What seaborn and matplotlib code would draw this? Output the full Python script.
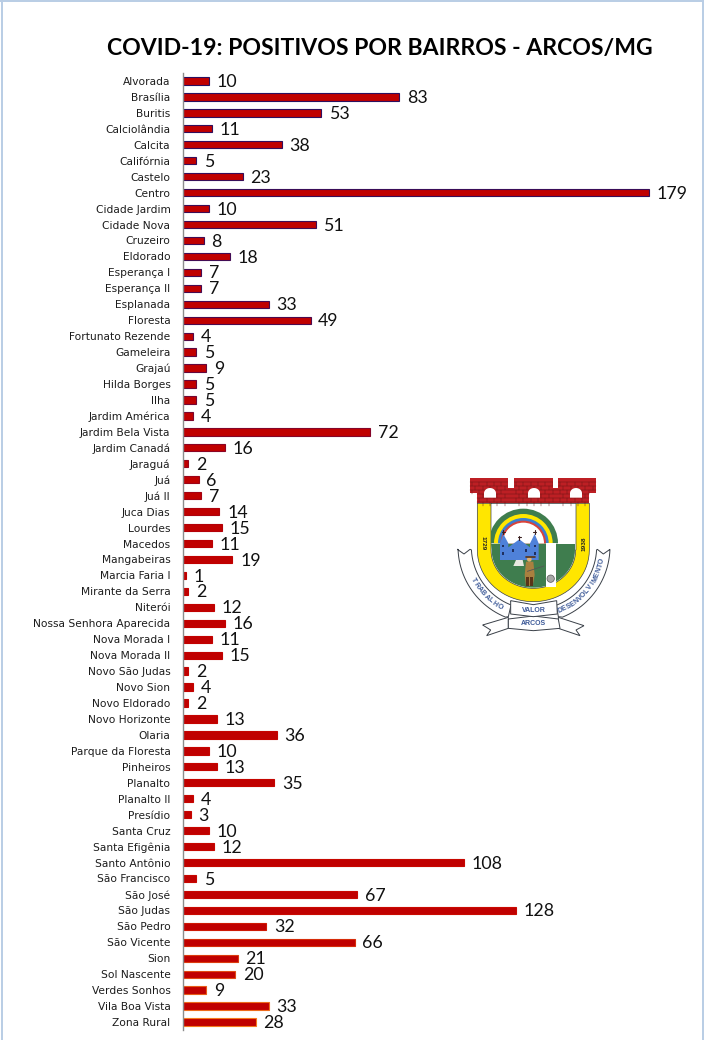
import numpy as np
import pandas as pd
import matplotlib
matplotlib.use('Agg')
import matplotlib.pyplot as plt
import seaborn as sns
from matplotlib.colors import LinearSegmentedColormap
from matplotlib.lines import Line2D
from matplotlib.patches import Rectangle, Wedge, Circle, PathPatch
from matplotlib.path import Path

bairros = ['Alvorada', 'Brasília', 'Buritis', 'Calciolândia', 'Calcita', 'Califórnia', 'Castelo', 'Centro',
           'Cidade Jardim', 'Cidade Nova', 'Cruzeiro', 'Eldorado', 'Esperança I', 'Esperança II', 'Esplanada',
           'Floresta', 'Fortunato Rezende', 'Gameleira', 'Grajaú', 'Hilda Borges', 'Ilha', 'Jardim América',
           'Jardim Bela Vista', 'Jardim Canadá', 'Jaraguá', 'Juá', 'Juá II', 'Juca Dias', 'Lourdes', 'Macedos',
           'Mangabeiras', 'Marcia Faria I', 'Mirante da Serra', 'Niterói', 'Nossa Senhora Aparecida',
           'Nova Morada I', 'Nova Morada II', 'Novo São Judas', 'Novo Sion', 'Novo Eldorado', 'Novo Horizonte',
           'Olaria', 'Parque da Floresta', 'Pinheiros', 'Planalto', 'Planalto II', 'Presídio', 'Santa Cruz',
           'Santa Efigênia', 'Santo Antônio', 'São Francisco', 'São José', 'São Judas', 'São Pedro', 'São Vicente',
           'Sion', 'Sol Nascente', 'Verdes Sonhos', 'Vila Boa Vista', 'Zona Rural']
positivos = [10, 83, 53, 11, 38, 5, 23, 179, 10, 51, 8, 18, 7, 7, 33, 49, 4, 5, 9, 5, 5, 4, 72, 16, 2, 6, 7, 14, 15,
             11, 19, 1, 2, 12, 16, 11, 15, 2, 4, 2, 13, 36, 10, 13, 35, 4, 3, 10, 12, 108, 5, 67, 128, 32, 66, 21, 20,
             9, 33, 28]

W, H = 720, 1040
RED = '#c00000'
BRICK = '#bd1f24'
YELLOW = '#ffe600'
GREEN = '#3f7d4e'
BLUE = '#4f81d9'
INK = '#3a4048'
TXT_BLUE = '#3d5a98'

sns.set_theme(style='white')
plt.rcParams['font.family'] = ['DejaVu Sans']

df = pd.DataFrame({'bairro': bairros, 'positivos': positivos})

fig = plt.figure(figsize=(W / 100, H / 100), dpi=100, facecolor='white')
ax = fig.add_axes([183 / W, 1 - 1030 / H, (700 - 183) / W, (1030 - 73) / H])
sns.barplot(data=df, y='bairro', x='positivos', color=RED, saturation=1, width=0.46, ax=ax)

# bar outline goes from dark purple at the top to orange at the bottom
edge_cmap = LinearSegmentedColormap.from_list(
    'edge', [(0, '#2a1060'), (0.25, '#4a0a50'), (0.5, '#c00000'), (0.88, '#c80800'), (1, '#f47a20')])
for i, bar in enumerate(ax.containers[0]):
    bar.set_edgecolor(edge_cmap(i / (len(bairros) - 1)))
    bar.set_linewidth(0.8)

ax.set_xlim(0, (700 - 183) / 2.603)
ax.set_ylim(len(bairros) - 0.5, -0.5)
ax.set_xlabel('')
ax.set_ylabel('')
ax.set_xticks([])
ax.tick_params(axis='y', length=0, pad=9, labelsize=7.7, labelcolor='#1c1c1c')
sns.despine(ax=ax, top=True, right=True, bottom=True)
ax.spines['left'].set_color('#8c8c8c')
ax.spines['left'].set_linewidth(1.0)
ax.patch.set_alpha(0)

for lab in ax.bar_label(ax.containers[0], padding=5.5, fontsize=12.8, family='Lato', color='#111111'):
    # the numbers sit a little below the bar centre
    lab.xyann = (lab.xyann[0], lab.xyann[1] - 0.8)

fig.text(379.5 / W, 1 - 48.5 / H, 'COVID-19: POSITIVOS POR BAIRROS - ARCOS/MG', ha='center', va='center',
         fontsize=16.6, fontweight='bold', family='Lato', color='black')

# thin window border of the screenshot
for xs, ys in [((1.5, 1.5), (0, H)), ((0, 703), (1, 1)), ((703, 703), (0, H))]:
    fig.add_artist(Line2D([x / W for x in xs], [1 - y / H for y in ys], color='#b9cde5', lw=1.4))

# municipal crest, drawn in its own axes (570 units = 190 px)
lg = fig.add_axes([440 / W, 1 - 650 / H, 190 / W, 190 / H])
lg.set_xlim(0, 570)
lg.set_ylim(570, 0)
lg.axis('off')
lg.patch.set_alpha(0)


def shape(points, **kw):
    verts = points + [points[0]]
    lg.add_patch(PathPatch(Path(verts), **kw))


def arc_pts(cx, cy, rx, ry, a0, a1, n=40):
    return [(cx + rx * np.cos(np.radians(a)), cy + ry * np.sin(np.radians(a))) for a in np.linspace(a0, a1, n)]


ribbon = dict(facecolor='white', edgecolor=INK, lw=0.7)
# side bands of the ribbon
shape([(52, 268), (72, 282), (90, 268)] + arc_pts(282, 260, 188, 188, 177, 100, 25)[:-1] + [(212, 440), (205, 470)]
      + arc_pts(282, 260, 228, 228, 112, 178, 25), **ribbon)
shape([(510, 268), (490, 282), (472, 268)] + arc_pts(282, 260, 188, 188, 3, 80, 25)[:-1] + [(350, 440), (355, 470)]
      + arc_pts(282, 260, 228, 228, 68, 2, 25), **ribbon)
# tails and centre banners
shape([(128, 495), (205, 472), (205, 505), (140, 527), (152, 510)], **ribbon)
shape([(432, 497), (355, 472), (355, 505), (420, 527), (408, 510)], **ribbon)
shape([(205, 477), (280, 468), (355, 477), (360, 505), (280, 512), (205, 505)], **ribbon)
shape([(212, 422), (280, 434), (350, 422), (352, 462), (280, 470), (212, 462)], **ribbon)

# yellow shield and its white field
shape([(112, 130), (448, 130), (448, 270)] + arc_pts(280, 270, 168, 155, 0, 180), facecolor=YELLOW, edgecolor=INK, lw=0.5)
shape([(153, 130), (408, 130), (408, 270)] + arc_pts(280, 270, 127, 115, 0, 180), facecolor='white', edgecolor=INK, lw=0.5)
# green landscape
shape([(153, 252), (405, 252), (405, 270)] + arc_pts(280, 270, 125, 113, 0, 180), facecolor=GREEN, edgecolor='none')
# rainbow, only the part inside the field
field = PathPatch(Path([(153, 130), (408, 130), (408, 252), (153, 252), (153, 130)]), transform=lg.transData)
for r, c in [(104, GREEN), (88, YELLOW), (76, '#3a7fd0'), (68, '#d9433a'), (62, 'white')]:
    w = lg.add_patch(Wedge((250, 250), r, 180, 360, facecolor=c, edgecolor='none'))
    w.set_clip_path(field)
lg.add_patch(Rectangle((318, 250), 30, 132, facecolor='white', edgecolor='none'))
# church
shape([(180, 300), (180, 250), (190, 222), (205, 250), (205, 262), (238, 238), (270, 262), (270, 250), (284, 222),
       (296, 250), (296, 300)], facecolor=BLUE, edgecolor='none')
shape([(228, 300), (248, 300), (252, 318), (220, 318)], facecolor='#e8e8e0', edgecolor='none')
for x, y in [(190, 215), (238, 232), (284, 215)]:
    lg.plot([x, x], [y - 5, y + 7], color='#3a2020', lw=0.8)
    lg.plot([x - 4, x + 4], [y, y], color='#3a2020', lw=0.8)
for x, y in [(190, 258), (190, 280), (284, 258), (284, 280), (218, 272), (258, 272)]:
    lg.add_patch(Rectangle((x - 3, y - 4), 6, 8, facecolor='#1f2f60', edgecolor='none'))
# bandeirante and rock
shape([(258, 305), (280, 305), (284, 345), (278, 378), (258, 378), (254, 345)], facecolor='#a9803f', edgecolor='none')
lg.add_patch(Rectangle((258, 352), 8, 26, facecolor='#5a3418', edgecolor='none'))
lg.add_patch(Rectangle((271, 352), 8, 26, facecolor='#5a3418', edgecolor='none'))
lg.add_patch(Circle((268, 298), 7, facecolor='#e0b070', edgecolor='none'))
lg.plot([258, 284], [292, 292], color='#5a3418', lw=1.2)
lg.plot([262, 312], [334, 318], color='#555555', lw=0.6)
lg.add_patch(Circle((332, 356), 11, facecolor='#a8a8a8', edgecolor='#555555', lw=0.5))

# brick wall with three merlons
shape([(90, 55), (205, 55), (205, 85), (222, 85), (222, 55), (338, 55), (338, 85), (355, 85), (355, 55), (468, 55),
       (468, 100), (448, 100), (448, 130), (112, 130), (112, 100), (90, 100)], facecolor=BRICK, edgecolor='none')
for i, y in enumerate(range(66, 130, 12)):
    lg.plot([90 if y < 100 else 112, 468 if y < 100 else 448], [y, y], color='#6d1417', lw=0.35)
    for x in range(96 + 10 * (i % 2), 466, 22):
        if (y < 100 or 112 < x < 448) and not (205 < x < 222 or 338 < x < 355):
            lg.plot([x, x], [y, y + 12], color='#6d1417', lw=0.35)
# notches back to white above the mortar lines
for x0 in [205, 338]:
    lg.add_patch(Rectangle((x0, 50), 17, 35, facecolor='white', edgecolor='none', zorder=3))
for x in [150, 282, 408]:
    shape(arc_pts(x, 100, 18, 16, 180, 360) + [(x + 18, 113), (x - 18, 113)], facecolor='white', edgecolor='none', zorder=3)

# crest lettering
crest_font = dict(fontweight='bold', family='Liberation Sans')
lg.text(130, 250, '1729', rotation=-90, ha='center', va='center', fontsize=4.6, color='#222222', **crest_font)
lg.text(431, 250, '1938', rotation=90, ha='center', va='center', fontsize=4.6, color='#222222', **crest_font)
lg.text(281, 450, 'VALOR', ha='center', va='center', fontsize=5, color=TXT_BLUE, **crest_font)
lg.text(281, 491, 'ARCOS', ha='center', va='center', fontsize=5, color=TXT_BLUE, **crest_font)


def arc_text(word, a0, a1):
    for ch, a in zip(word, np.linspace(a0, a1, len(word))):
        x = 282 + 208 * np.cos(np.radians(a))
        y = 260 + 208 * np.sin(np.radians(a))
        lg.text(x, y, ch, rotation=-(a - 90), ha='center', va='center', fontsize=5, color=TXT_BLUE, **crest_font)


arc_text('TRABALHO', 151, 120)
arc_text('DESENVOLVIMENTO', 68, 12)

fig.savefig('out.png', dpi=100)
